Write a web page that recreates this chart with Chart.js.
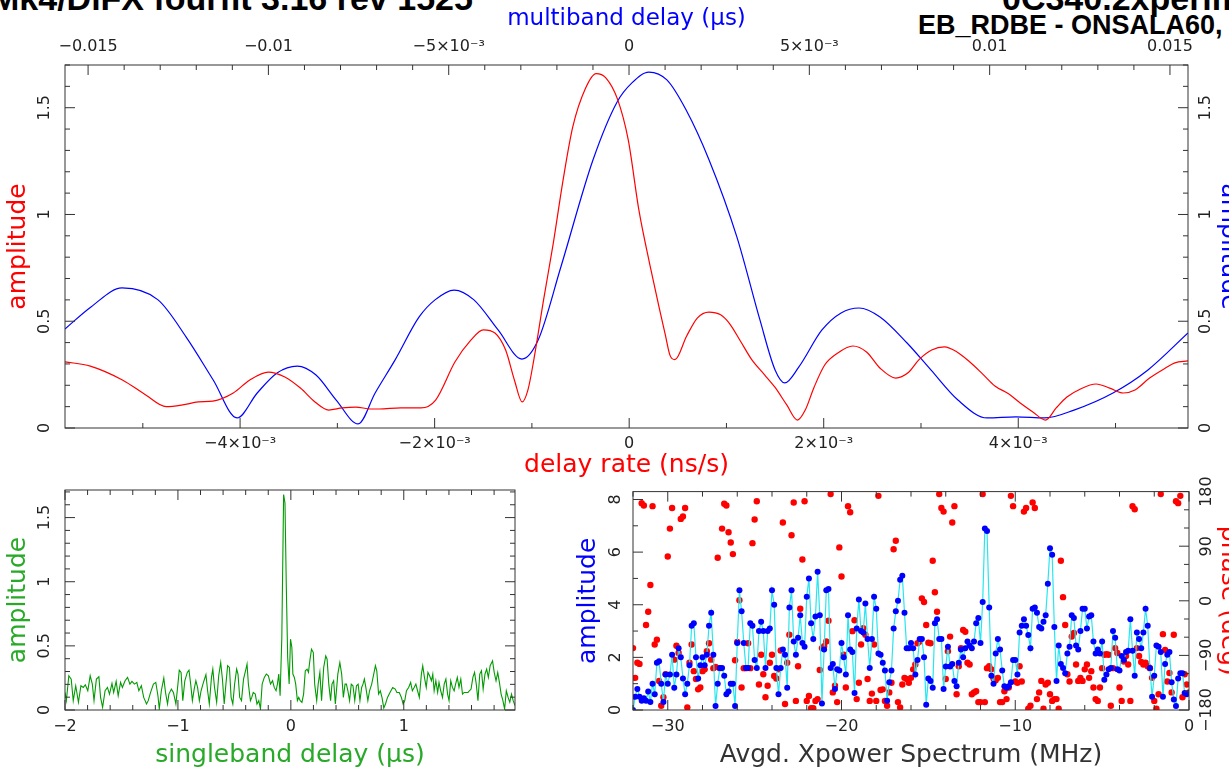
<!DOCTYPE html>
<html>
<head>
<meta charset="utf-8">
<script src="https://cdn.jsdelivr.net/npm/chart.js@4.4.0/dist/chart.umd.min.js"></script>
<style>
  html, body { margin: 0; padding: 0; width: 1229px; height: 771px; overflow: hidden; background: #fff; }
  body { position: relative; }
  canvas { position: absolute; }
  .hdr { position: absolute; white-space: nowrap; font-family: 'Liberation Sans', Arial, sans-serif; font-weight: bold; color: #000; }
</style>
</head>
<body>
<div class="hdr" style="left:-9px; top:-19px; font-size:34px; line-height:34px;">Mk4/DiFX fourfit 3.16 rev 1525</div>
<div class="hdr" style="left:1002px; top:-19px; font-size:34px; line-height:34px;">0C340.2xperiment</div>
<div class="hdr" style="left:918px; top:12px; font-size:27px; line-height:27px;">EB_RDBE - ONSALA60, fgroup X, pol RR</div>

<canvas id="top" width="1250" height="480" style="left:0; top:0;"></canvas>
<canvas id="sbd" width="600" height="301" style="left:0; top:470px;"></canvas>
<canvas id="xps" width="690" height="301" style="left:560px; top:470px;"></canvas>

<script>
// ---- delay rate (ns/s) vs amplitude, red
const rateX = [-0.00580, -0.00554, -0.00521, -0.00497, -0.00476, -0.00459, -0.00443, -0.00428, -0.00407, -0.00390,
  -0.00371, -0.00354, -0.00338, -0.00323, -0.00309, -0.00295, -0.00281, -0.00266, -0.00257, -0.00235,
  -0.00214, -0.00199, -0.00179, -0.00163, -0.00150, -0.00138, -0.00127, -0.00118, -0.00110, -0.00104,
  -0.00098, -0.00088, -0.00078, -0.00068, -0.00058, -0.00045, -0.00034, -0.00024, -0.00012, -0.00001,
  0.00010, 0.00021, 0.00031, 0.00037, 0.00042, 0.00047, 0.00059, 0.00070, 0.00082, 0.00094,
  0.00103, 0.00114, 0.00126, 0.00139, 0.00150, 0.00162, 0.00173, 0.00181, 0.00190, 0.00201,
  0.00214, 0.00230, 0.00244, 0.00258, 0.00274, 0.00287, 0.00298, 0.00311, 0.00324, 0.00337,
  0.00350, 0.00364, 0.00376, 0.00390, 0.00402, 0.00415, 0.00428, 0.00439, 0.00450, 0.00464,
  0.00480, 0.00494, 0.00508, 0.00520, 0.00535, 0.00551, 0.00561, 0.005745];
const rateAmp = [0.31, 0.29, 0.225, 0.155, 0.10, 0.108, 0.122, 0.126, 0.164, 0.225,
  0.262, 0.239, 0.187, 0.122, 0.084, 0.094, 0.098, 0.089, 0.089, 0.094,
  0.094, 0.131, 0.31, 0.41, 0.46, 0.445, 0.365, 0.225, 0.122, 0.18,
  0.32, 0.60, 0.866, 1.16, 1.41, 1.59, 1.66, 1.64, 1.54, 1.35,
  1.02, 0.77, 0.56, 0.44, 0.34, 0.32, 0.43, 0.515, 0.543, 0.53,
  0.49, 0.41, 0.32, 0.25, 0.19, 0.108, 0.037, 0.084, 0.19, 0.295,
  0.35, 0.384, 0.356, 0.28, 0.234, 0.26, 0.32, 0.365, 0.38, 0.356,
  0.31, 0.25, 0.197, 0.16, 0.117, 0.075, 0.037, 0.094, 0.145, 0.183,
  0.206, 0.187, 0.164, 0.178, 0.234, 0.28, 0.305, 0.314];

// ---- multiband delay (us) vs amplitude, blue
const mbdX = [-0.01564, -0.01492, -0.01406, -0.01306, -0.01228, -0.01153, -0.01087, -0.01031, -0.00976, -0.00920,
  -0.00868, -0.00812, -0.00751, -0.00704, -0.00649, -0.00582, -0.00538, -0.00485, -0.00430, -0.00363,
  -0.00297, -0.00252, -0.00189, -0.00100, -0.00033, 0.00008, 0.00055, 0.00105, 0.00158, 0.00222,
  0.00299, 0.00363, 0.00405, 0.00432, 0.00471, 0.00535, 0.00588, 0.00638, 0.00696, 0.00771,
  0.00837, 0.00912, 0.00993, 0.01073, 0.01153, 0.01234, 0.01342, 0.01439, 0.01550];
const mbdAmp = [0.464, 0.567, 0.656, 0.60, 0.426, 0.225, 0.047, 0.164, 0.258, 0.29,
  0.248, 0.131, 0.019, 0.164, 0.318, 0.52, 0.60, 0.646, 0.60, 0.459,
  0.323, 0.412, 0.754, 1.255, 1.527, 1.616, 1.667, 1.63, 1.49, 1.255,
  0.895, 0.506, 0.272, 0.211, 0.286, 0.459, 0.539, 0.562, 0.52, 0.398,
  0.272, 0.131, 0.047, 0.052, 0.047, 0.084, 0.164, 0.272, 0.445];

// ---- singleband delay (us) vs amplitude, green
const sbdDelay = [-2.000, -1.988, -1.966, -1.945, -1.927, -1.905, -1.881, -1.859, -1.838, -1.820,
  -1.798, -1.777, -1.758, -1.743, -1.722, -1.700, -1.685, -1.667, -1.645, -1.624,
  -1.606, -1.584, -1.569, -1.547, -1.529, -1.508, -1.492, -1.468, -1.446, -1.425,
  -1.407, -1.385, -1.364, -1.346, -1.324, -1.303, -1.278, -1.263, -1.242, -1.217,
  -1.196, -1.177, -1.165, -1.147, -1.125, -1.110, -1.092, -1.080, -1.058, -1.040,
  -1.018, -1.000, -0.988, -0.972, -0.957, -0.939, -0.917, -0.902, -0.887, -0.872,
  -0.856, -0.841, -0.826, -0.810, -0.795, -0.774, -0.752, -0.737, -0.722, -0.703,
  -0.691, -0.676, -0.657, -0.639, -0.621, -0.606, -0.590, -0.575, -0.560, -0.544,
  -0.529, -0.514, -0.498, -0.480, -0.468, -0.453, -0.437, -0.419, -0.401, -0.388,
  -0.376, -0.358, -0.346, -0.333, -0.315, -0.300, -0.284, -0.269, -0.254, -0.235,
  -0.217, -0.199, -0.180, -0.162, -0.147, -0.131, -0.119, -0.107, -0.095, -0.080,
  -0.064, -0.052, -0.040, -0.028, -0.015, -0.003, 0.009, 0.018, 0.031, 0.043,
  0.058, 0.070, 0.083, 0.098, 0.113, 0.128, 0.144, 0.156, 0.168, 0.183,
  0.199, 0.211, 0.229, 0.242, 0.257, 0.272, 0.291, 0.309, 0.321, 0.336,
  0.352, 0.364, 0.379, 0.394, 0.416, 0.434, 0.450, 0.465, 0.480, 0.492,
  0.505, 0.520, 0.535, 0.550, 0.566, 0.581, 0.596, 0.612, 0.627, 0.639,
  0.651, 0.664, 0.682, 0.697, 0.716, 0.734, 0.749, 0.761, 0.777, 0.792,
  0.807, 0.823, 0.838, 0.856, 0.878, 0.902, 0.924, 0.939, 0.960, 0.979,
  0.994, 1.009, 1.024, 1.043, 1.061, 1.076, 1.092, 1.107, 1.122, 1.138,
  1.156, 1.168, 1.183, 1.199, 1.214, 1.229, 1.245, 1.257, 1.269, 1.284,
  1.300, 1.312, 1.327, 1.343, 1.358, 1.373, 1.388, 1.401, 1.416, 1.431,
  1.446, 1.459, 1.474, 1.489, 1.505, 1.520, 1.535, 1.550, 1.569, 1.581,
  1.596, 1.612, 1.627, 1.642, 1.657, 1.673, 1.688, 1.703, 1.719, 1.734,
  1.749, 1.765, 1.786, 1.801, 1.817, 1.832, 1.847, 1.862, 1.878, 1.893,
  1.908, 1.924, 1.939, 1.954, 1.969, 1.985];
const sbdAmp = [0.137, 0.073, 0.267, 0.241, 0.073, 0.189, 0.060, 0.189, 0.176, 0.197,
  0.150, 0.267, 0.202, 0.073, 0.241, 0.259, 0.098, 0.021, 0.150, 0.176,
  0.124, 0.207, 0.137, 0.223, 0.111, 0.215, 0.176, 0.228, 0.254, 0.202,
  0.223, 0.202, 0.215, 0.150, 0.189, 0.098, 0.047, 0.073, 0.137, 0.202,
  0.215, 0.111, 0.008, 0.150, 0.249, 0.137, 0.047, 0.124, 0.163, 0.137,
  0.047, 0.202, 0.311, 0.293, 0.073, 0.228, 0.293, 0.311, 0.202, 0.073,
  0.163, 0.228, 0.176, 0.073, 0.150, 0.215, 0.275, 0.150, 0.047, 0.254,
  0.319, 0.176, 0.060, 0.267, 0.370, 0.241, 0.047, 0.202, 0.345, 0.332,
  0.098, 0.047, 0.202, 0.319, 0.280, 0.098, 0.073, 0.241, 0.306, 0.358,
  0.202, 0.073, 0.098, 0.137, 0.124, 0.047, 0.073, 0.008, 0.202, 0.254,
  0.280, 0.267, 0.202, 0.228, 0.176, 0.150, 0.202, 0.280, 0.111, 0.565,
  1.679, 1.614, 0.953, 0.409, 0.202, 0.552, 0.487, 0.280, 0.254, 0.202,
  0.073, 0.098, 0.073, 0.060, 0.124, 0.306, 0.319, 0.293, 0.383, 0.474,
  0.448, 0.202, 0.073, 0.202, 0.293, 0.073, 0.332, 0.422, 0.396, 0.202,
  0.073, 0.202, 0.228, 0.047, 0.280, 0.370, 0.280, 0.098, 0.202, 0.202,
  0.150, 0.073, 0.202, 0.189, 0.073, 0.189, 0.202, 0.073, 0.176, 0.202,
  0.241, 0.176, 0.073, 0.150, 0.202, 0.280, 0.345, 0.306, 0.124, 0.150,
  0.098, 0.016, 0.047, 0.098, 0.137, 0.176, 0.163, 0.137, 0.137, 0.098,
  0.047, 0.073, 0.150, 0.176, 0.215, 0.150, 0.176, 0.202, 0.150, 0.098,
  0.280, 0.345, 0.254, 0.176, 0.293, 0.267, 0.228, 0.280, 0.150, 0.228,
  0.137, 0.215, 0.150, 0.098, 0.202, 0.241, 0.124, 0.073, 0.228, 0.176,
  0.150, 0.202, 0.254, 0.176, 0.241, 0.124, 0.137, 0.137, 0.137, 0.150,
  0.163, 0.254, 0.293, 0.202, 0.073, 0.280, 0.306, 0.163, 0.280, 0.319,
  0.254, 0.345, 0.383, 0.293, 0.228, 0.293, 0.215, 0.124, 0.073, 0.008,
  0.150, 0.098, 0.060, 0.124, 0.073, 0.034];

// ---- averaged cross-power spectrum: amplitude (blue) and phase in degrees (red), channels from -32 to 0 MHz
const xpAmp = [0, 0.5, 0.8, 0.5, 0.35, 0.45, 0.35, 0.7, 0.3, 1.0, 0.6, 1.8, 1.85, 1.0, 0.3, 1.35, 1.0, 1.35, 2.1, 0.85,
  1.35, 2.35, 2.0, 1.2, 0.6, 1.0, 1.7, 3.2, 3.3, 2.0, 1.2, 1.7, 2.0, 1.7, 2.1, 3.2, 3.7, 2.1, 0.15, 1.0,
  1.6, 1.6, 1.3, 0.6, 0.7, 1.0, 1.0, 0.15, 2.55, 4.55, 3.75, 2.55, 1.6, 1.6, 3.3, 3.2, 1.9, 1.6, 3.0, 3.35,
  3.0, 1.6, 3.0, 3.1, 4.55, 4.0, 1.6, 0.6, 1.6, 2.3, 2.1, 0.85, 3.9, 4.55, 2.6, 2.1, 2.75, 3.6, 2.55, 2.4,
  4.3, 5.0, 3.3, 2.7, 3.55, 5.25, 3.6, 0.25, 2.3, 4.55, 4.6, 1.6, 1.75, 0.8, 1.55, 1.5, 2.55, 2.0, 1.35, 3.6,
  2.3, 2.2, 0.65, 3.1, 4.2, 3.0, 2.95, 4.05, 2.7, 1.6, 2.7, 4.3, 3.85, 2.15, 2.1, 1.8, 1.5, 0.35, 1.05, 1.5,
  3.1, 3.75, 4.15, 4.95, 5.1, 3.7, 2.35, 2.35, 2.55, 2.35, 1.35, 1.9, 2.7, 2.7, 2.0, 0.2, 1.2, 1.1, 0.85, 3.3,
  3.45, 2.7, 2.7, 0.8, 1.65, 2.4, 1.65, 1.75, 1.1, 0.9, 1.8, 2.3, 2.0, 2.35, 2.6, 2.45, 2.35, 2.6, 3.3, 3.5,
  2.55, 4.1, 6.9, 6.8, 3.9, 1.3, 1.0, 2.15, 2.7, 2.3, 1.5, 0.9, 0.85, 0.9, 1.05, 1.9, 1.9, 1.35, 2.95, 3.2,
  3.45, 3.2, 2.85, 2.35, 3.85, 3.9, 3.7, 3.15, 3.1, 3.35, 3.6, 4.8, 6.15, 5.9, 3.15, 1.1, 2.45, 1.75, 1.6, 1.4,
  2.15, 2.4, 3.6, 3.5, 2.45, 2.3, 3.0, 3.85, 3.85, 3.1, 3.55, 3.6, 2.6, 2.15, 2.3, 2.15, 2.6, 1.15, 1.35, 1.55,
  1.6, 3.0, 2.75, 1.55, 1.5, 2.05, 1.9, 2.2, 2.25, 3.45, 2.25, 1.3, 2.95, 2.7, 2.35, 2.95, 3.85, 3.2, 1.6, 0.5,
  1.3, 2.45, 2.4, 2.2, 0.5, 1.75, 2.1, 2.2, 1.05, 0.4, 0.15, 1.2, 1.4, 1.4, 0.65, 0.6, 0.65];
const xpPhase = [-78, -127, -102, -104, 161, 157, -40, -18, 26, 156, -72, -64, -132, -173, -159, -121, 73, 119, 153, -97,
  -74, -86, 135, 139, 153, -176, -102, -72, -116, -129, -146, -143, -116, -113, -83, -70, -97, -111, -109, 71,
  -111, 119, 160, 157, 113, 96, 77, -98, -68, 1, -143, -111, -111, -70, -111, 95, 134, 164, -138, -89,
  -121, -159, -140, -102, -89, -124, -128, -113, -82, 129, -170, -102, -56, 108, 162, -165, -108, -13, 68, 164,
  -165, -157, -177, -177, -165, -162, -114, -78, -75, -67, -33, 176, -151, -140, -167, 88, 40, -89, -143, 156,
  146, -50, -32, -162, -135, -72, -45, -56, -129, -165, -153, -72, -165, 173, -147, -146, -165, -173, -151, -135,
  85, 99, -167, -176, -138, -127, -129, -135, -127, -113, -105, -70, -67, 4, -2, -40, -69, -70, 66, 14,
  -18, 176, 153, 147, -129, -83, -59, 129, 156, -154, -108, -78, -48, -51, -102, -105, -154, -151, -149, -167,
  -167, 176, -167, -111, -108, -113, -128, -131, -127, -167, -167, -149, -162, -143, 173, 156, -133, -135, -108, -133,
  147, 153, -178, -173, 162, 153, -162, -151, -132, -178, -138, -135, -154, -165, -162, -162, -178, 66, 6, -40,
  -121, -133, -59, -53, -105, -132, -127, -132, -113, -105, -127, -116, -143, -162, -165, -143, -111, -89, -88, -89,
  -173, -111, -78, -86, -143, -165, -100, -91, -105, -165, 156, 151, -78, -91, -101, -105, -102, -108, -111, -127,
  -165, -178, -154, 176, -55, -81, -133, -119, -151, -56, 164, 161, 173, -159, -121, -138, -151];
const bandStart = -32, bandEnd = 0;

// ---- tick labels
const ampTickVals = [0, 0.5, 1, 1.5];
const ampTickText = ['0', '0.5', '1', '1.5'];
const rateTickVals = [-0.004, -0.002, 0, 0.002, 0.004];
const rateTickText = ['\u22124\u00d710\u207b\u00b3', '\u22122\u00d710\u207b\u00b3', '0', '2\u00d710\u207b\u00b3', '4\u00d710\u207b\u00b3'];
const mbdTickVals = [-0.015, -0.01, -0.005, 0, 0.005, 0.01, 0.015];
const mbdTickText = ['\u22120.015', '\u22120.01', '\u22125\u00d710\u207b\u00b3', '0', '5\u00d710\u207b\u00b3', '0.01', '0.015'];
const sbdTickVals = [-2, -1, 0, 1];
const sbdTickText = ['\u22122', '\u22121', '0', '1'];
const freqTickVals = [-30, -20, -10, 0];
const freqTickText = ['\u221230', '\u221220', '\u221210', '0'];
const xpAmpTickVals = [0, 2, 4, 6, 8];
const xpAmpTickText = ['0', '2', '4', '6', '8'];
const phaseTickVals = [-180, -90, 0, 90, 180];
const phaseTickText = ['\u2212180', '\u221290', '0', '90', '180'];

Chart.defaults.font.family = "'DejaVu Sans', sans-serif";
Chart.defaults.animation = false;

const RED = 'rgb(255,0,0)', BLUE = 'rgb(0,0,255)', GREEN = 'rgb(0,155,0)', INK = '#222';
const tickFont = { size: 16 };
const titleFont = { size: 25 };

// label only the major ticks
function labeller(vals, text) {
  return v => {
    const i = vals.findIndex(t => Math.abs(t - v) < 1e-9);
    return i < 0 ? '' : text[i];
  };
}

// every multiple of the minor step inside [min, max]
function minorTicks(min, max, step) {
  return s => {
    const t = [];
    for (let k = Math.ceil(min / step - 1e-9); k * step <= max + 1e-12; k++) {
      t.push({ value: +(k * step).toFixed(10) });
    }
    s.ticks = t;
  };
}

// pgplot style frame: box plus inward major/minor ticks
const pgFrame = {
  id: 'pgFrame',
  afterDatasetsDraw(chart, args, opts) {
    const { ctx, chartArea: a } = chart;
    ctx.save();
    ctx.strokeStyle = '#333';
    ctx.lineWidth = 1;
    ctx.strokeRect(a.left, a.top, a.right - a.left, a.bottom - a.top);
    for (const s of Object.values(chart.scales)) {
      const sides = (opts.mirror || []).includes(s.id)
        ? (s.isHorizontal() ? ['top', 'bottom'] : ['left', 'right'])
        : [s.position];
      s.ticks.forEach((t, i) => {
        const p = s.getPixelForTick(i);
        const len = t.label ? 10 : 5;
        ctx.beginPath();
        for (const side of sides) {
          if (side === 'bottom') { ctx.moveTo(p, a.bottom); ctx.lineTo(p, a.bottom - len); }
          if (side === 'top') { ctx.moveTo(p, a.top); ctx.lineTo(p, a.top + len); }
          if (side === 'left') { ctx.moveTo(a.left, p); ctx.lineTo(a.left + len, p); }
          if (side === 'right') { ctx.moveTo(a.right, p); ctx.lineTo(a.right - len, p); }
        }
        ctx.stroke();
      });
    }
    ctx.restore();
  }
};

function xAxis(pos, min, max, step, vals, text, size, title, color, pad, titlePad, tsize) {
  return {
    type: 'linear', position: pos, min: min, max: max,
    grid: { display: false, drawTicks: false }, border: { display: false },
    ticks: { stepSize: step, autoSkip: false, maxRotation: 0, color: INK, font: tickFont, padding: pad,
      callback: labeller(vals, text) },
    afterBuildTicks: minorTicks(min, max, step),
    title: { display: true, text: title, color: color, font: { size: tsize || titleFont.size }, padding: titlePad },
    afterFit: s => { s.height = size; }
  };
}
function yAxis(pos, min, max, step, vals, text, size, title, color, pad, titlePad) {
  return {
    type: 'linear', position: pos, min: min, max: max,
    grid: { display: false, drawTicks: false }, border: { display: false },
    ticks: { stepSize: step, autoSkip: false, minRotation: 90, maxRotation: 90, crossAlign: 'center',
      color: INK, font: tickFont, padding: pad, callback: labeller(vals, text) },
    afterBuildTicks: minorTicks(min, max, step),
    title: { display: !!title, text: title, color: color, font: titleFont, padding: titlePad },
    afterFit: s => { s.width = size; }
  };
}
const pts = (xs, ys) => xs.map((x, i) => ({ x: x, y: ys[i] }));

// ---- top panel
new Chart(document.getElementById('top'), {
  type: 'scatter',
  data: {
    datasets: [
      { data: pts(rateX, rateAmp), xAxisID: 'x', yAxisID: 'y', showLine: true, borderColor: RED,
        borderWidth: 1.2, pointRadius: 0, cubicInterpolationMode: 'monotone' },
      { data: pts(mbdX, mbdAmp), xAxisID: 'x2', yAxisID: 'y2', showLine: true, borderColor: BLUE,
        borderWidth: 1.2, pointRadius: 0, cubicInterpolationMode: 'monotone' }
    ]
  },
  options: {
    responsive: false, devicePixelRatio: 1,
    layout: { padding: 0 },
    plugins: { legend: { display: false }, tooltip: { enabled: false }, pgFrame: {} },
    scales: {
      x: xAxis('bottom', -0.0058, 0.005745, 0.001, rateTickVals, rateTickText, 52, 'delay rate (ns/s)', RED, 6, { top: 0, bottom: 0 }),
      x2: xAxis('top', -0.01564, 0.0155, 0.001, mbdTickVals, mbdTickText, 65, 'multiband delay (\u03bcs)', BLUE, 9, { top: 5, bottom: 0 }, 23),
      y: yAxis('left', 0, 1.7, 0.1, ampTickVals, ampTickText, 65, 'amplitude', RED, 7, { top: 3, bottom: 0 }),
      y2: yAxis('right', 0, 1.7, 0.1, ampTickVals, ampTickText, 62, 'amplitude', BLUE, 5, { top: 7, bottom: 0 })
    }
  },
  plugins: [pgFrame]
});

// ---- singleband delay panel
new Chart(document.getElementById('sbd'), {
  type: 'scatter',
  data: {
    datasets: [
      { data: pts(sbdDelay, sbdAmp), showLine: true, borderColor: GREEN, borderWidth: 1.1, pointRadius: 0 }
    ]
  },
  options: {
    responsive: false, devicePixelRatio: 1,
    layout: { padding: { top: 20, right: 85, left: 0, bottom: 0 } },
    plugins: { legend: { display: false }, tooltip: { enabled: false }, pgFrame: { mirror: ['x', 'y'] } },
    scales: {
      x: xAxis('bottom', -2, 1.985, 0.2, sbdTickVals, sbdTickText, 61, 'singleband delay (\u03bcs)', 'rgb(40,170,40)', 7, { top: 0, bottom: 1 }),
      y: yAxis('left', 0, 1.715, 0.1, ampTickVals, ampTickText, 65, 'amplitude', 'rgb(40,170,40)', 7, { top: 3, bottom: 0 })
    }
  },
  plugins: [pgFrame]
});

// ---- cross power spectrum panel
const ampFreq = xpAmp.map((_, i) => bandStart + i * (bandEnd - bandStart) / (xpAmp.length - 1));
const phaseFreq = xpPhase.map((_, i) => bandStart + i * (bandEnd - bandStart) / (xpPhase.length - 1));
new Chart(document.getElementById('xps'), {
  type: 'scatter',
  data: {
    datasets: [
      { data: pts(ampFreq, xpAmp), yAxisID: 'y', showLine: true, borderColor: 'rgb(40,230,240)', borderWidth: 1.2,
        pointRadius: 3, pointBackgroundColor: BLUE, pointBorderColor: BLUE, pointBorderWidth: 0 },
      { data: pts(phaseFreq, xpPhase), yAxisID: 'y2', showLine: false,
        pointRadius: 3.2, pointBackgroundColor: RED, pointBorderColor: RED, pointBorderWidth: 0 }
    ]
  },
  options: {
    responsive: false, devicePixelRatio: 1,
    layout: { padding: { top: 20, right: 0, left: 0, bottom: 0 } },
    plugins: { legend: { display: false }, tooltip: { enabled: false }, pgFrame: { mirror: ['x'] } },
    scales: {
      x: xAxis('bottom', bandStart, bandEnd, 2, freqTickVals, freqTickText, 61, 'Avgd. Xpower Spectrum (MHz)', '#333', 7, { top: 0, bottom: 1 }),
      y: yAxis('left', 0, 8.3, 1, xpAmpTickVals, xpAmpTickText, 73, 'amplitude', BLUE, 12, { top: 13, bottom: 0 }),
      y2: yAxis('right', -180, 180, 30, phaseTickVals, phaseTickText, 61, 'phase (deg)', RED, -4, { top: 7, bottom: 0 })
    }
  },
  plugins: [pgFrame]
});
</script>
</body>
</html>
